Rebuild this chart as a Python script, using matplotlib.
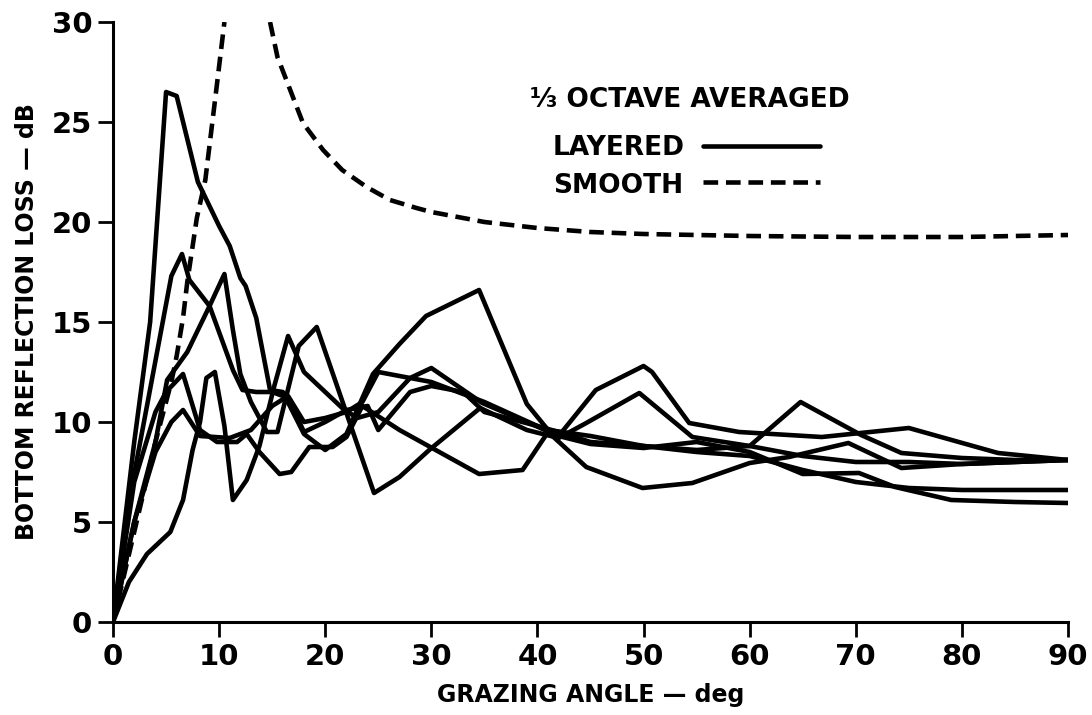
import matplotlib
matplotlib.use("Agg")
import matplotlib.pyplot as plt
import numpy as np

plt.rcParams['font.family'] = ['DejaVu Sans']
plt.rcParams['font.weight'] = 'bold'

# ---- data ----
x_ticks = [0, 10, 20, 30, 40, 50, 60, 70, 80, 90]
y_ticks = [0, 5, 10, 15, 20, 25, 30]

# layered, 1/3 octave averaged (several frequencies)
l1_x = [0, 2, 3.5, 5, 6, 8, 10, 11, 12, 12.5, 13.5, 14.8, 16, 18, 20, 22, 24.5, 27, 29.5, 34.5, 39, 41, 45, 50, 55, 60, 65, 70, 75, 80, 85, 90]
l1_y = [0, 9, 15, 26.5, 26.3, 22, 19.8, 18.8, 17.2, 16.8, 15.2, 11.6, 11.5, 9.4, 8.6, 9.4, 12.4, 13.9, 15.3, 16.6, 10.9, 9.6, 9.3, 8.8, 8.5, 8.3, 7.6, 7.0, 6.7, 6.6, 6.6, 6.6]

l2_x = [0, 1.5, 3.2, 5.5, 6.5, 7.2, 9.1, 11.3, 12.2, 13.5, 15, 16.5, 18, 20, 22, 24, 25, 28, 30, 33, 35, 40, 42, 45, 50, 55, 60, 65, 70.3, 73.7, 79, 85, 90]
l2_y = [0, 6, 10.8, 17.3, 18.4, 17.1, 15.8, 12.6, 11.6, 11.5, 11.5, 11.2, 9.5, 10.0, 10.6, 10.8, 9.6, 11.5, 11.8, 11.5, 10.5, 9.8, 9.3, 8.9, 8.7, 9.0, 8.5, 7.4, 7.45, 6.75, 6.1, 6.0, 5.95]

l3_x = [0, 2, 4, 5.1, 7, 9.1, 10.5, 11.3, 12, 13, 14.5, 15.5, 17.5, 19.2, 21.8, 24.6, 27, 29.8, 34.6, 39, 42, 44.6, 49.6, 54.6, 60, 64.8, 70.5, 74.3, 80, 85, 90]
l3_y = [0, 5, 9, 12.1, 13.5, 15.8, 17.4, 14.6, 12.4, 11.0, 9.5, 9.5, 13.8, 14.75, 10.75, 6.45, 7.25, 8.6, 10.7, 9.6, 9.2, 9.95, 11.45, 9.25, 8.8, 11.0, 9.35, 8.45, 8.2, 8.1, 8.1]

l4_x = [0, 1.5, 3.2, 5.4, 6.6, 7.5, 8.2, 8.8, 9.6, 10.5, 11.3, 12.6, 13.8, 15.2, 16.5, 18, 21.6, 23, 25, 28, 30, 35, 40, 42, 45, 50, 55, 60, 65, 70, 75, 80, 85, 90]
l4_y = [0, 2, 3.4, 4.5, 6.1, 8.6, 10, 12.2, 12.5, 9.8, 6.1, 7.1, 8.8, 11.8, 14.3, 12.5, 10.7, 10.2, 10.5, 12.2, 12.0, 11.0, 9.8, 9.5, 9.0, 8.8, 8.6, 8.8, 8.3, 8.0, 8.0, 7.9, 8.0, 8.1]

l5_x = [0, 2, 4, 5, 6.6, 8.2, 9.8, 11.7, 12.6, 13.8, 15.7, 16.8, 18.5, 20.7, 22, 23.5, 27, 34.5, 38.6, 41, 44.6, 49.9, 54.6, 60, 63.7, 69.3, 74.3, 80, 85, 90]
l5_y = [0, 7, 10.5, 11.5, 12.4, 9.6, 9.0, 9.0, 9.4, 8.5, 7.4, 7.5, 8.75, 8.75, 9.25, 10.8, 9.6, 7.4, 7.6, 9.5, 7.75, 6.7, 6.95, 7.95, 8.25, 8.95, 7.7, 7.9, 8.0, 8.1]

l6_x = [0, 2, 4, 5.5, 6.6, 8.2, 11, 13, 15, 16.5, 18, 20, 22, 23.5, 25, 28, 30, 34.8, 39.2, 42, 45.5, 50, 50.8, 54.3, 59, 66.8, 75, 83.4, 90]
l6_y = [0, 5, 8.5, 10, 10.6, 9.3, 9.2, 9.6, 10.8, 11.3, 10.0, 10.2, 10.5, 11.0, 12.5, 12.2, 12.7, 10.95, 9.95, 9.3, 11.6, 12.8, 12.5, 9.95, 9.5, 9.25, 9.7, 8.45, 8.1]

layered = [(l1_x, l1_y), (l2_x, l2_y), (l3_x, l3_y), (l4_x, l4_y), (l5_x, l5_y), (l6_x, l6_y)]

# smooth bottom (two branches around the singular angle)
sm_left_x = [0, 2, 4, 5.5, 6.0, 6.6, 7.0, 7.9, 8.7, 9.8, 10.5]
sm_left_y = [0, 4.5, 9.0, 12.0, 13.3, 15.2, 17.0, 20.2, 22.1, 26.9, 30.0]
sm_right_x = [14.8, 15.5, 16.7, 17.9, 19.8, 21.6, 23.9, 26.1, 28.6, 30, 35, 40, 45, 50, 60, 70, 80, 90]
sm_right_y = [30.0, 28.25, 26.6, 24.95, 23.6, 22.6, 21.75, 21.1, 20.7, 20.5, 20.0, 19.7, 19.5, 19.4, 19.3, 19.25, 19.25, 19.35]

# ---- figure ----
fig = plt.figure(figsize=(10.92, 7.15), dpi=100)
ax = fig.add_axes([113/1092, 1 - 622/715, 955/1092, 600/715])

lw = 3.3
for xs, ys in layered:
    ax.plot(xs, ys, color='black', lw=lw, solid_joinstyle='round', solid_capstyle='round')

dash = (3.2, 1.7)
ax.plot(sm_left_x, sm_left_y, color='black', lw=lw, dashes=dash, dash_capstyle='butt')
ax.plot(sm_right_x, sm_right_y, color='black', lw=lw, dashes=dash, dash_capstyle='butt')

ax.set_xlim(0, 90)
ax.set_ylim(0, 30)
ax.set_xticks(x_ticks)
ax.set_yticks(y_ticks)
ax.set_xticklabels([str(v) for v in x_ticks], fontsize=21, fontweight='bold')
ax.set_yticklabels([str(v) for v in y_ticks], fontsize=21, fontweight='bold')
ax.tick_params(axis='both', direction='out', length=11, width=2, pad=4)

for s in ['top', 'right']:
    ax.spines[s].set_visible(False)
for s in ['left', 'bottom']:
    ax.spines[s].set_linewidth(2.2)

ax.set_xlabel('GRAZING ANGLE — deg', fontsize=17, fontweight='bold', labelpad=9)
ax.set_ylabel('BOTTOM REFLECTION LOSS — dB', fontsize=17, fontweight='bold', labelpad=9)

# legend drawn as text + sample lines
ax.text(0.4366, 0.87, '⅓ OCTAVE AVERAGED', transform=ax.transAxes, fontsize=19,
        fontweight='bold', va='center', ha='left')
ax.text(0.4607, 0.79, 'LAYERED', transform=ax.transAxes, fontsize=19,
        fontweight='bold', va='center', ha='left')
ax.text(0.4607, 0.727, 'SMOOTH', transform=ax.transAxes, fontsize=19,
        fontweight='bold', va='center', ha='left')
ax.plot([0.618, 0.740], [0.7933, 0.7933], transform=ax.transAxes, color='black', lw=lw,
        solid_capstyle='round')
ax.plot([0.618, 0.740], [0.7333, 0.7333], transform=ax.transAxes, color='black', lw=lw,
        dashes=dash, dash_capstyle='butt')

fig.savefig('out.png', dpi=100, facecolor='white')
